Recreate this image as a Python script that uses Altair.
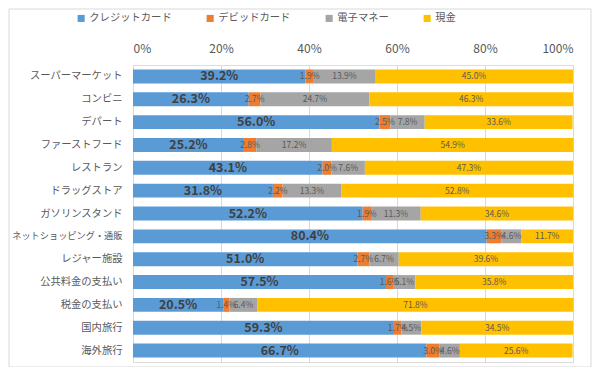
import altair as alt
import pandas as pd

categories = ["スーパーマーケット", "コンビニ", "デパート", "ファーストフード", "レストラン",
              "ドラッグストア", "ガソリンスタンド", "ネットショッピング・通販", "レジャー施設",
              "公共料金の支払い", "税金の支払い", "国内旅行", "海外旅行"]
series = ["クレジットカード", "デビッドカード", "電子マネー", "現金"]
credit = [39.2, 26.3, 56.0, 25.2, 43.1, 31.8, 52.2, 80.4, 51.0, 57.5, 20.5, 59.3, 66.7]
debit = [1.9, 2.7, 2.5, 2.8, 2.0, 2.2, 1.9, 3.3, 2.7, 1.6, 1.4, 1.7, 3.0]
emoney = [13.9, 24.7, 7.8, 17.2, 7.6, 13.3, 11.3, 4.6, 6.7, 5.1, 6.4, 4.5, 4.6]
cash = [45.0, 46.3, 33.6, 54.9, 47.3, 52.8, 34.6, 11.7, 39.6, 35.8, 71.8, 34.5, 25.6]
colors = ["#5B9BD5", "#ED7D31", "#A5A5A5", "#FFC000"]

rows = []
for si, (s, vals) in enumerate(zip(series, [credit, debit, emoney, cash])):
    for c, v in zip(categories, vals):
        rows.append({"cat": c, "series": s, "order": si, "value": v,
                     "label": f"{v:.1f}%"})
df = pd.DataFrame(rows)

FONT = "Noto Sans CJK JP"

base = alt.Chart(df).transform_stack(
    stack="value", groupby=["cat"], as_=["x0", "x1"],
    sort=[alt.SortField("order", order="ascending")]
).transform_calculate(mid="(datum.x0 + datum.x1) / 2")

y_enc = alt.Y("cat:N", sort=categories,
              scale=alt.Scale(paddingInner=0.39, paddingOuter=0.195),
              axis=alt.Axis(title=None, domain=False, ticks=False, labelPadding=11,
                            labelFontSize={"condition": {"test": "length(datum.value) > 10", "value": 9.2},
                                           "value": 10.3},
                            labelLimit=200,
                            labelColor="#595959", labelFont=FONT))

bars = base.mark_bar().encode(
    x=alt.X("x0:Q", scale=alt.Scale(domain=[0, 100], nice=False),
            axis=alt.Axis(orient="top", values=[0, 20, 40, 60, 80, 100],
                          labelExpr="datum.value + '%'", title=None, domain=False,
                          ticks=False, labelPadding=10, labelFontSize=12,
                          labelColor="#595959", labelFont=FONT,
                          grid=True, gridColor="#D9D9D9", gridWidth=1)),
    x2="x1:Q",
    y=y_enc,
    color=alt.Color("series:N", sort=series,
                    scale=alt.Scale(domain=series, range=colors),
                    legend=alt.Legend(title=None, orient="none", direction="horizontal",
                                      legendX=-57, legendY=-52, symbolType="square",
                                      symbolSize=50, symbolStrokeWidth=0,
                                      labelFontSize=10.3, labelColor="#595959",
                                      labelFont=FONT, columnPadding=33, symbolOffset=0,
                                      labelOffset=3)),
    order=alt.Order("order:Q"),
)

big = base.transform_filter("datum.order == 0").mark_text(
    fontSize=12.5, fontWeight="bold", color="#404040", font=FONT, baseline="middle"
).encode(x="mid:Q", y=alt.Y("cat:N", sort=categories), text="label:N")

small = base.transform_filter("datum.order > 0").mark_text(
    fontSize=8.5, color="#595959", font=FONT, baseline="middle"
).encode(x="mid:Q", y=alt.Y("cat:N", sort=categories), text="label:N")

border = alt.Chart(pd.DataFrame({"k": [1]})).mark_rect(
    fill=None, stroke="#D9D9D9", strokeWidth=1, clip=False
).encode(x=alt.value(-124), x2=alt.value(458), y=alt.value(-56), y2=alt.value(302))

chart = alt.layer(border, bars, big, small).properties(
    width=440, height=297,
    autosize=alt.AutoSizeParams(type="none"),
    padding={"left": 125, "top": 57, "right": 19, "bottom": 5},
).configure_view(stroke=None).configure(background="white")

chart.save("out.html", embed_options={"renderer": "svg", "actions": False})
